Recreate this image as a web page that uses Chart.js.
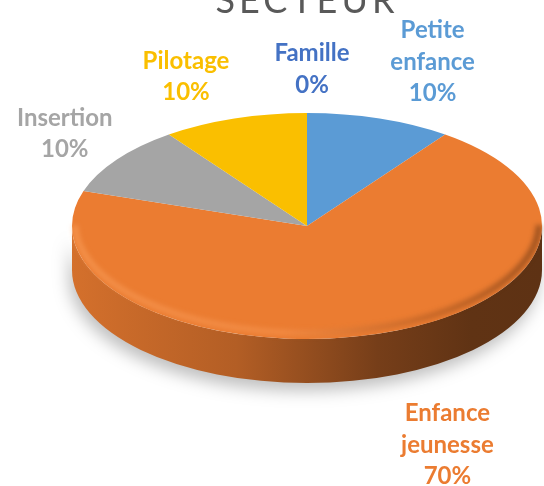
<!DOCTYPE html>
<html>
<head>
<meta charset="utf-8">
<script src="https://cdn.jsdelivr.net/npm/chart.js@4/dist/chart.umd.min.js"></script>
<style>
  html, body { margin: 0; padding: 0; background: #fff; }
  #wrap { width: 544px; height: 486px; position: relative; }
</style>
</head>
<body>
<div id="wrap"><canvas id="chart"></canvas></div>
<script>
// data
const categories = ['Petite enfance', 'Enfance jeunesse', 'Insertion', 'Pilotage', 'Famille'];
const values = [10, 70, 10, 10, 0];
const sliceColors = ['#5B9BD5', '#EB7C31', '#A5A5A5', '#FABF00', '#4472C4'];
const titleText = 'SECTEUR';

// 3D look
const tilt = 113 / 235;   // vertical squash of the disc
const depth = 44;         // thickness of the disc
const topCenterY = 226;   // where the squashed disc sits
const frontBoost = 1.12;  // near half looks a bit bigger (perspective)

function shade(hex, f) {
  const n = parseInt(hex.slice(1), 16);
  const r = Math.round(((n >> 16) & 255) * f);
  const g = Math.round(((n >> 8) & 255) * f);
  const b = Math.round((n & 255) * f);
  return `rgb(${r},${g},${b})`;
}

const pie3d = {
  id: 'pie3d',
  beforeDatasetsDraw(chart) {
    const ctx = chart.ctx;
    const arcs = chart.getDatasetMeta(0).data;
    const { x, outerRadius: r } = arcs[0];
    const ry = r * tilt;
    const cy = topCenterY;

    // side walls (only the front half can be seen)
    ctx.save();
    ctx.shadowColor = 'rgba(0,0,0,0.25)';
    ctx.shadowBlur = 16;
    ctx.shadowOffsetY = 8;
    ctx.shadowOffsetX = -3;
    arcs.forEach((arc, i) => {
      const color = sliceColors[i];
      [-2 * Math.PI, 0, 2 * Math.PI].forEach(k => {
        const a0 = Math.max(arc.startAngle, k);
        const a1 = Math.min(arc.endAngle, k + Math.PI);
        if (a1 <= a0) return;
        const grad = ctx.createLinearGradient(x - r, 0, x + r, 0);
        grad.addColorStop(0, shade(color, 0.9));
        grad.addColorStop(0.35, shade(color, 0.76));
        grad.addColorStop(0.65, shade(color, 0.5));
        grad.addColorStop(0.85, shade(color, 0.41));
        grad.addColorStop(1, shade(color, 0.4));
        ctx.beginPath();
        ctx.ellipse(x, cy, r, ry, 0, a0, a1);
        ctx.ellipse(x, cy + depth, r, ry, 0, a1, a0, true);
        ctx.closePath();
        ctx.fillStyle = grad;
        ctx.fill();
      });
    });
    ctx.restore();

    // squash the top face drawn by Chart.js
    ctx.save();
    ctx.translate(0, cy);
    ctx.scale(1, tilt);
    ctx.translate(0, -arcs[0].y);
  },
  afterDatasetsDraw(chart) {
    const ctx = chart.ctx;
    ctx.restore();

    const arcs = chart.getDatasetMeta(0).data;
    const { x, outerRadius: r } = arcs[0];
    const ry = r * tilt;
    const cy = topCenterY;

    // soft bevel along the front rim
    ctx.save();
    const g = ctx.createLinearGradient(x - r, 0, x + r, 0);
    g.addColorStop(0, 'rgba(255,170,105,0.45)');
    g.addColorStop(0.45, 'rgba(255,165,100,0.35)');
    g.addColorStop(0.75, 'rgba(120,60,20,0.3)');
    g.addColorStop(1, 'rgba(90,45,15,0.55)');
    ctx.strokeStyle = g;
    ctx.lineWidth = 6;
    ctx.filter = 'blur(2.5px)';
    ctx.beginPath();
    ctx.ellipse(x, cy - 3, r - 3, ry - 3, 0, 0.02, Math.PI - 0.02);
    ctx.stroke();
    ctx.restore();
  },
  afterDraw(chart) {
    const ctx = chart.ctx;
    const arcs = chart.getDatasetMeta(0).data;
    const { x, outerRadius: r } = arcs[0];
    const ry = r * tilt;
    const cy = topCenterY;
    const total = values.reduce((a, b) => a + b, 0);
    const lineH = 31.5;

    // title, cut by the top edge as in the original
    ctx.save();
    ctx.font = '36px Lato';
    ctx.fillStyle = '#595959';
    ctx.letterSpacing = '4px';
    ctx.textBaseline = 'alphabetic';
    ctx.textAlign = 'left';
    const tw = ctx.measureText(titleText).width - 4;
    ctx.fillText(titleText, 305 - tw / 2, 13);
    ctx.restore();

    // data labels
    ctx.save();
    ctx.font = 'bold 24px Lato';
    ctx.textAlign = 'center';
    ctx.textBaseline = 'middle';
    arcs.forEach((arc, i) => {
      const lines = categories[i].split(' ');
      lines.push(Math.round(values[i] / total * 100) + '%');
      const w = Math.max(...lines.map(l => ctx.measureText(l).width));
      const h = lines.length * lineH;
      const mid = (arc.startAngle + arc.endAngle) / 2;
      const c = Math.cos(mid), s = Math.sin(mid);
      const boost = s > 0 ? frontBoost : 1;
      const ky = s > 0 ? 1.08 : 1.11;
      let lx = x + c * (r * 1.55 * boost + w / 2);
      let ly = cy + s * (ry * ky * boost + h / 2) + (s > 0 ? depth : 0);
      lx = Math.min(Math.max(lx, w / 2 + 12), chart.width - w / 2 - 8);
      ctx.fillStyle = sliceColors[i];
      lines.forEach((l, j) => {
        ctx.fillText(l, lx + (s < 0 && c < 0 ? 5 : 0), ly - h / 2 + lineH * (j + 0.5));
      });
    });
    ctx.restore();
  }
};

const chart = new Chart(document.getElementById('chart'), {
  type: 'pie',
  data: {
    labels: categories,
    datasets: [{
      data: values,
      backgroundColor: sliceColors,
      borderWidth: 0,
      clip: false
    }]
  },
  options: {
    responsive: true,
    maintainAspectRatio: false,
    animation: false,
    layout: { padding: { left: 72, right: 2, top: 0, bottom: 16 } },
    plugins: {
      legend: { display: false },
      tooltip: { enabled: false },
      title: { display: false }
    }
  },
  plugins: [pie3d]
});
</script>
</body>
</html>
